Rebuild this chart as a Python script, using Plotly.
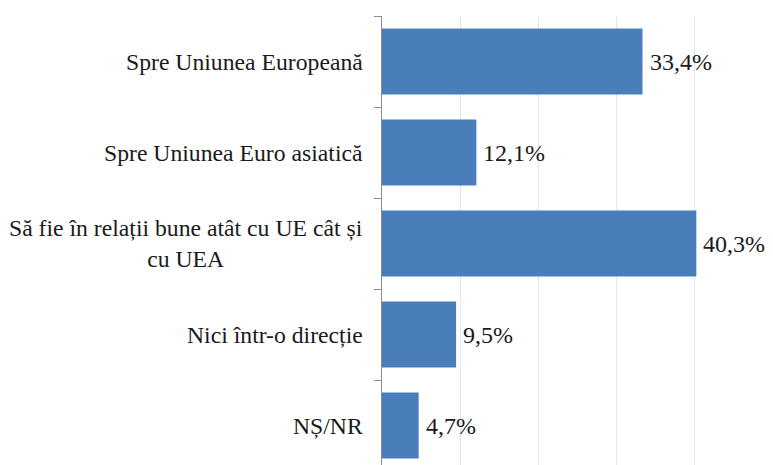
import plotly.graph_objects as go

categories = [
    "Spre Uniunea Europeană",
    "Spre Uniunea Euro asiatică",
    "Să fie în relații bune atât cu UE cât și<br>cu UEA",
    "Nici într-o direcție",
    "NȘ/NR",
]
values = [33.4, 12.1, 40.3, 9.5, 4.7]
value_labels = [f"{v:.1f}%".replace(".", ",") for v in values]

FONT = "Liberation Serif"
BAR = "#4A7EBB"

fig = go.Figure()
fig.add_trace(go.Bar(
    x=values,
    y=categories,
    orientation="h",
    marker=dict(color=BAR, line=dict(width=0)),
    hoverinfo="skip",
))

annotations = []
for cat, v, lab in zip(categories, values, value_labels):
    annotations.append(dict(
        x=0, y=cat, xref="x", yref="y", text=cat, showarrow=False,
        xanchor="right", yanchor="middle", align="center", xshift=-17,
        font=dict(family=FONT, size=23.7, color="#1a1a1a"),
    ))
    annotations.append(dict(
        x=v, y=cat, xref="x", yref="y", text=lab, showarrow=False,
        xanchor="left", yanchor="middle", xshift=5,
        font=dict(family=FONT, size=24, color="#1a1a1a"),
    ))

fig.update_layout(
    width=773, height=465,
    margin=dict(l=382, r=1, t=16, b=0),
    paper_bgcolor="white", plot_bgcolor="white",
    font=dict(family=FONT),
    bargap=0.275,
    showlegend=False,
    annotations=annotations,
    xaxis=dict(
        range=[0, 50], dtick=10, showticklabels=False, showgrid=True,
        gridcolor="#DCE5F2", gridwidth=1, zeroline=False, showline=False,
        ticks="",
    ),
    yaxis=dict(
        type="category", categoryorder="array", categoryarray=categories,
        range=[4.434, -0.5], showticklabels=False, showgrid=False,
        tickson="boundaries", ticks="outside", ticklen=7, tickcolor="#8C8C8C",
        showline=True, linecolor="#8C8C8C", linewidth=1, zeroline=False,
    ),
)

fig.write_html(
    "out.html",
    config={"displayModeBar": False},
    post_script="document.body.style.margin='0';document.body.style.overflow='hidden';",
)
